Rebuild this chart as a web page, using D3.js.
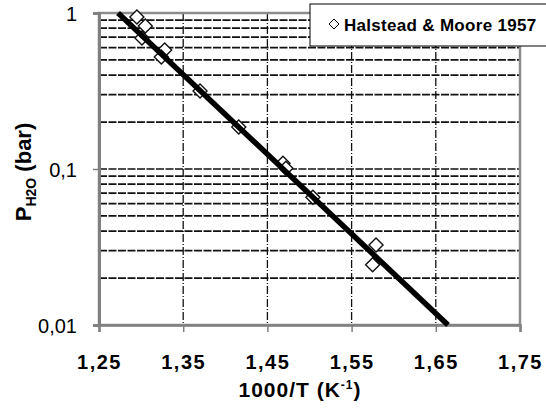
<!DOCTYPE html>
<html>
<head>
<meta charset="utf-8">
<script src="https://cdn.jsdelivr.net/npm/d3@7"></script>
<style>
body{margin:0;background:#fff;}
</style>
</head>
<body>
<div id="chart"></div>
<script>
// measured points (Halstead & Moore 1957)
var invT = [1.295,1.305,1.301,1.328,1.324,1.370,1.416,1.4685,1.472,1.504,1.579,1.575];
var pH2O = [0.943,0.825,0.691,0.579,0.522,0.316,0.186,0.109,0.101,0.066,0.0326,0.0243];

// fitted line end points
var fitX = [1.2726,1.6645];
var fitY = [1,0.01];

var xTicks = [1.25,1.35,1.45,1.55,1.65,1.75];
var yTicks = [1,0.1,0.01];
var yMinor = [0.9,0.8,0.7,0.6,0.5,0.4,0.3,0.2,0.09,0.08,0.07,0.06,0.05,0.04,0.03,0.02];

var legendLabel = "Halstead & Moore 1957";

var W = 546, H = 412;
var pL = 99, pR = 520, pT = 13, pB = 325;
var font = "'Liberation Sans', Arial, sans-serif";

var x = d3.scaleLinear().domain([1.25,1.75]).range([pL,pR]);
var y = d3.scaleLog().domain([0.01,1]).range([pB,pT]);

var fmt = function(v){ return String(v).replace(".", ","); };

var svg = d3.select("#chart")
	.append("svg")
	.attr("width", W)
	.attr("height", H)
	.style("font-family", font);

// gridlines
svg.append("g").selectAll("line")
	.data(yMinor.concat([0.1]))
	.enter().append("line")
	.attr("x1", pL).attr("x2", pR)
	.attr("y1", function(d){return y(d);})
	.attr("y2", function(d){return y(d);})
	.attr("stroke", "#111")
	.attr("stroke-width", 1.7)
	.attr("stroke-dasharray", "8,1.5");

svg.append("g").selectAll("line")
	.data(xTicks.slice(1,5))
	.enter().append("line")
	.attr("x1", function(d){return x(d);})
	.attr("x2", function(d){return x(d);})
	.attr("y1", pT).attr("y2", pB)
	.attr("stroke", "#111")
	.attr("stroke-width", 1.3)
	.attr("stroke-dasharray", "8,2,1,2");

// plot frame
svg.append("rect")
	.attr("x", pL).attr("y", pT)
	.attr("width", pR-pL).attr("height", pB-pT)
	.attr("fill", "none")
	.attr("stroke", "#8c8c8c")
	.attr("stroke-width", 2.5);

// axes
var yAxis = d3.axisLeft(y).tickValues(yTicks).tickSize(6).tickFormat(fmt);
var gy = svg.append("g").attr("transform", "translate("+pL+",0)").call(yAxis);
gy.select(".domain").attr("stroke", "#808080").attr("stroke-width", 3);
gy.selectAll(".tick line").attr("stroke", "#808080").attr("stroke-width", 1.5);
gy.selectAll(".tick text")
	.attr("x", -22).attr("dy", "0.36em")
	.style("font-size", "20px")
	.style("font-family", font)
	.attr("fill", "#000");

var xAxis = d3.axisBottom(x).tickValues(xTicks).tickSize(7).tickFormat(fmt);
var gx = svg.append("g").attr("transform", "translate(0,"+pB+")").call(xAxis);
gx.select(".domain").attr("stroke", "#808080").attr("stroke-width", 2.5);
gx.selectAll(".tick line").attr("stroke", "#808080").attr("stroke-width", 1.5);
gx.selectAll(".tick text")
	.attr("y", 32).attr("dy", "0.6em")
	.style("font-size", "20px")
	.style("font-weight", "bold")
	.style("letter-spacing", "1.5px")
	.style("font-family", font)
	.attr("fill", "#000");

// data markers
function diamond(cx, cy, r){
	return "M"+cx+","+(cy-r)+"L"+(cx+r)+","+cy+"L"+cx+","+(cy+r)+"L"+(cx-r)+","+cy+"Z";
}

svg.append("g").selectAll("path")
	.data(invT)
	.enter().append("path")
	.attr("d", function(d,i){return diamond(x(d), y(pH2O[i]), 7);})
	.attr("fill", "#fff")
	.attr("stroke", "#111")
	.attr("stroke-width", 1.4);

// fitted line
svg.append("line")
	.attr("x1", x(fitX[0])).attr("y1", y(fitY[0]))
	.attr("x2", x(fitX[1])).attr("y2", y(fitY[1]))
	.attr("stroke", "#000")
	.attr("stroke-width", 5.5);

// legend
svg.append("rect")
	.attr("x", 310).attr("y", 4)
	.attr("width", 250).attr("height", 42)
	.attr("fill", "#fff")
	.attr("stroke", "#000")
	.attr("stroke-width", 1);
svg.append("path")
	.attr("d", diamond(334, 24, 5))
	.attr("fill", "#fff")
	.attr("stroke", "#000")
	.attr("stroke-width", 1);
svg.append("text")
	.attr("x", 344).attr("y", 31)
	.style("font-size", "17px")
	.style("font-weight", "bold")
	.style("letter-spacing", "0.3px")
	.text(legendLabel);

// axis titles
var xt = svg.append("text")
	.attr("x", 300).attr("y", 397)
	.attr("text-anchor", "middle")
	.style("font-size", "21px")
	.style("font-weight", "bold")
	.style("letter-spacing", "1px");
xt.append("tspan").text("1000/T (K");
xt.append("tspan").attr("dy", -8).style("font-size", "12px").text("-1");
xt.append("tspan").attr("dy", 8).text(")");

var yt = svg.append("text")
	.attr("transform", "translate(31,172) rotate(-90)")
	.attr("text-anchor", "middle")
	.style("font-size", "22px")
	.style("font-weight", "bold");
yt.append("tspan").text("P");
yt.append("tspan").attr("dy", 5).style("font-size", "14px").text("H2O");
yt.append("tspan").attr("dy", -5).text(" (bar)");
</script>
</body>
</html>
